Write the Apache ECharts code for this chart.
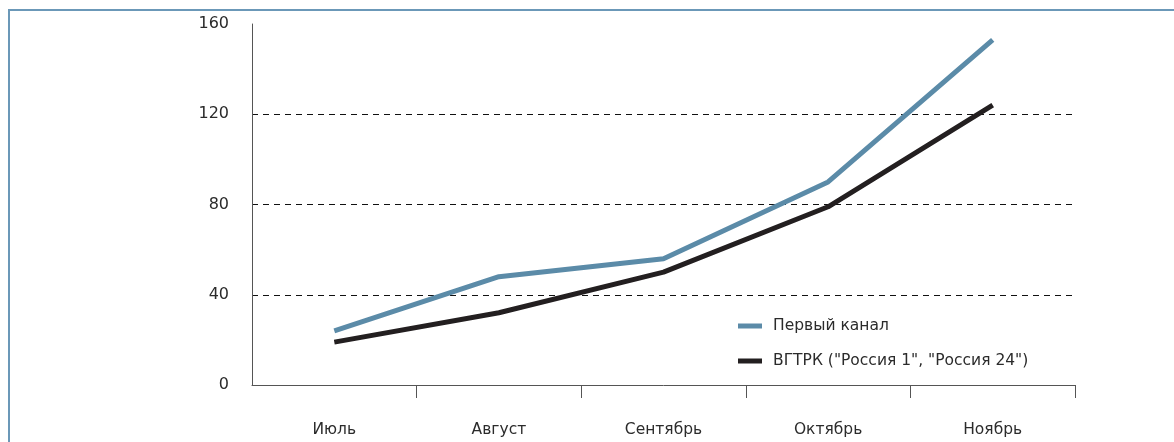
<!DOCTYPE html>
<html>
<head>
<meta charset="utf-8">
<script src="https://cdn.jsdelivr.net/npm/echarts@6/dist/echarts.min.js"></script>
<style>
  html, body { margin: 0; padding: 0; background: #fff; }
  #chart { width: 1174px; height: 442px; }
</style>
</head>
<body>
<div id="chart"></div>
<script>
// Months on the category axis
const months = ['Июль', 'Август', 'Сентябрь', 'Октябрь', 'Ноябрь'];
// Monthly values per broadcaster
const perviyKanal = [24, 48, 56, 90, 153];
const vgtrk = [19, 32, 50, 79, 124];
// Value axis ticks
const yTicks = [0, 40, 80, 120, 160];

const FONT = '"DejaVu Sans", sans-serif';
const TEXT = '#2b2b2b';
const FRAME = '#6b98b8';

const chart = echarts.init(document.getElementById('chart'), null, { renderer: 'canvas' });

chart.setOption({
  animation: false,
  textStyle: { fontFamily: FONT },
  graphic: [
    { type: 'line', shape: { x1: 8, y1: 10, x2: 1174, y2: 10 }, style: { stroke: FRAME, lineWidth: 2 } },
    { type: 'line', shape: { x1: 9, y1: 10, x2: 9, y2: 442 }, style: { stroke: FRAME, lineWidth: 2 } }
  ],
  grid: { left: 252, right: 99, top: 24, bottom: 57, containLabel: false },
  legend: {
    orient: 'vertical',
    left: 733,
    top: 313,
    itemGap: 19,
    itemWidth: 24,
    itemHeight: 5,
    icon: 'rect',
    textStyle: { fontFamily: FONT, fontSize: 15.5, color: TEXT, padding: [0, 0, 0, 6] },
    data: ['Первый канал', 'ВГТРК ("Россия 1", "Россия 24")']
  },
  xAxis: {
    type: 'category',
    data: months,
    boundaryGap: true,
    axisLine: { lineStyle: { color: '#555', width: 1 } },
    // separators between months only, none at either end of the axis
    axisTick: {
      show: true,
      length: 13,
      interval: (index) => index > 0 && index < months.length,
      lineStyle: { color: '#555' }
    },
    axisLabel: { margin: 37, fontFamily: FONT, fontSize: 15.5, color: TEXT }
  },
  yAxis: {
    type: 'value',
    min: yTicks[0],
    max: yTicks[yTicks.length - 1],
    interval: yTicks[1] - yTicks[0],
    axisLine: { show: true, lineStyle: { color: '#555', width: 1 } },
    axisTick: { show: false },
    axisLabel: { margin: 23, fontFamily: FONT, fontSize: 16, color: TEXT },
    splitLine: {
      show: true,
      showMinLine: false,
      showMaxLine: false,
      lineStyle: { color: '#111', width: 1, type: [6, 5] }
    }
  },
  series: [
    {
      name: 'Первый канал',
      type: 'line',
      data: perviyKanal,
      symbol: 'none',
      color: '#5b8ba8',
      lineStyle: { width: 5, color: '#5b8ba8' }
    },
    {
      name: 'ВГТРК ("Россия 1", "Россия 24")',
      type: 'line',
      data: vgtrk,
      symbol: 'none',
      color: '#231f20',
      lineStyle: { width: 5, color: '#231f20' }
    }
  ]
});
</script>
</body>
</html>
